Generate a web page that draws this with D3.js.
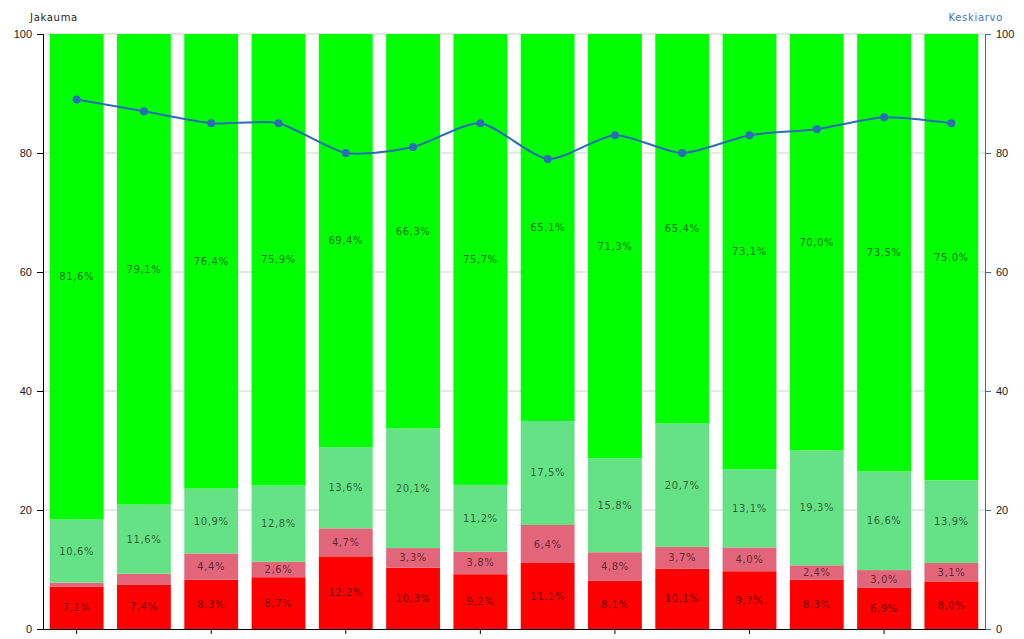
<!DOCTYPE html>
<html>
<head>
  <meta charset="utf-8">
  <title>Jakauma</title>
  <style>
    body { margin: 0; background: #fff; font-family: "DejaVu Sans", Verdana, sans-serif; }
    .axis text { font-size: 11px; fill: #222; }
    .seg-label { font-size: 10px; fill: #000; fill-opacity: .6; letter-spacing: .6px; }
  </style>
  <script src="https://d3js.org/d3.v7.min.js"></script>
</head>
<body>
  <div id="chart"></div>
  <script>
    // data
    var categories = d3.range(1, 15).map(String);
    var redValues   = [7.1, 7.4, 8.3, 8.7, 12.2, 10.3, 9.2, 11.1, 8.1, 10.1, 9.7, 8.3, 6.9, 8.0];
    var pinkValues  = [0.7, 1.9, 4.4, 2.6, 4.7, 3.3, 3.8, 6.4, 4.8, 3.7, 4.0, 2.4, 3.0, 3.1];
    var lightValues = [10.6, 11.6, 10.9, 12.8, 13.6, 20.1, 11.2, 17.5, 15.8, 20.7, 13.1, 19.3, 16.6, 13.9];
    var greenValues = [81.6, 79.1, 76.4, 75.9, 69.4, 66.3, 75.7, 65.1, 71.3, 65.4, 73.1, 70.0, 73.5, 75.0];
    var averages    = [89, 87, 85, 85, 80, 81, 85, 79, 83, 80, 83, 84, 86, 85];
    var yTicks = [0, 20, 40, 60, 80, 100];

    var seriesKeys = ["red", "pink", "light", "green"];
    var colors = { red: "#ff0000", pink: "#e2657a", light: "#66e286", green: "#00ff00" };

    var width = 1024, height = 639;
    var margin = { top: 34, right: 39, bottom: 10, left: 43 };

    var rows = categories.map(function (c, i) {
      return { cat: c, red: redValues[i], pink: pinkValues[i], light: lightValues[i], green: greenValues[i] };
    });

    var svg = d3.select("#chart").append("svg")
      .attr("width", width)
      .attr("height", height);

    var x = d3.scaleBand()
      .domain(categories)
      .range([margin.left, width - margin.right])
      .paddingInner(0.2)
      .paddingOuter(0.1);

    var y = d3.scaleLinear().domain([0, 100]).range([height - margin.bottom, margin.top]);
    var y2 = d3.scaleLinear().domain([0, 100]).range([height - margin.bottom, margin.top]);
    // 100 % stacks
    var yShare = d3.scaleLinear().domain([0, 1]).range([height - margin.bottom, margin.top]);

    // gridlines
    svg.append("g").selectAll("line")
      .data(yTicks.slice(1))
      .enter().append("line")
      .attr("x1", margin.left).attr("x2", width - margin.right)
      .attr("y1", function (d) { return y(d); }).attr("y2", function (d) { return y(d); })
      .attr("stroke", "#cfcfcf");

    var stack = d3.stack().keys(seriesKeys).offset(d3.stackOffsetExpand);
    var layers = stack(rows);

    var layer = svg.append("g").selectAll("g")
      .data(layers)
      .enter().append("g")
      .attr("fill", function (d) { return colors[d.key]; });

    layer.selectAll("rect")
      .data(function (d) { return d; })
      .enter().append("rect")
      .attr("x", function (d) { return x(d.data.cat); })
      .attr("width", x.bandwidth())
      .attr("y", function (d) { return yShare(d[1]); })
      .attr("height", function (d) { return yShare(d[0]) - yShare(d[1]); });

    // percentage labels (small segments are left out)
    layer.selectAll("text")
      .data(function (d) { return d.map(function (p) { return { p: p, key: d.key }; }); })
      .enter().filter(function (d) { return d.p.data[d.key] >= 2; })
      .append("text")
      .attr("class", "seg-label")
      .attr("x", function (d) { return x(d.p.data.cat) + x.bandwidth() / 2; })
      .attr("y", function (d) { return yShare((d.p[0] + d.p[1]) / 2); })
      .attr("dy", "0.35em")
      .attr("text-anchor", "middle")
      .text(function (d) { return d3.format(".1f")(d.p.data[d.key]).replace(".", ",") + "%"; });

    // axes
    var leftAxis = svg.append("g")
      .attr("class", "axis")
      .attr("transform", "translate(" + margin.left + ",0)")
      .call(d3.axisLeft(y).tickValues(yTicks).tickSize(6).tickPadding(5));
    leftAxis.select(".domain").attr("stroke", "#000");

    var rightAxis = svg.append("g")
      .attr("class", "axis")
      .attr("transform", "translate(" + (width - margin.right) + ",0)")
      .call(d3.axisRight(y2).tickValues(yTicks).tickSize(6).tickPadding(5));
    rightAxis.selectAll(".domain, line").attr("stroke", "#3a6ea5");

    var bottomAxis = svg.append("g")
      .attr("class", "axis")
      .attr("transform", "translate(0," + (height - margin.bottom) + ")")
      .call(d3.axisBottom(x)
        .tickValues(categories.filter(function (d, i) { return i % 2 === 0; }))
        .tickSize(5).tickSizeOuter(0).tickFormat(""));
    bottomAxis.select(".domain").attr("stroke", "#000");

    // average line
    var line = d3.line()
      .x(function (d, i) { return x(categories[i]) + x.bandwidth() / 2; })
      .y(function (d) { return y2(d); })
      .curve(d3.curveCardinal.tension(0.3));

    svg.append("path")
      .datum(averages)
      .attr("fill", "none")
      .attr("stroke", "#2a6db5")
      .attr("stroke-width", 2)
      .attr("d", line);

    svg.append("g").selectAll("circle")
      .data(averages)
      .enter().append("circle")
      .attr("cx", function (d, i) { return x(categories[i]) + x.bandwidth() / 2; })
      .attr("cy", function (d) { return y2(d); })
      .attr("r", 4)
      .attr("fill", "#2a6db5");

    // axis titles
    svg.append("text")
      .attr("x", 30).attr("y", 21)
      .style("font-size", "10px").style("letter-spacing", ".7px")
      .attr("fill", "#222")
      .text("Jakauma");

    svg.append("text")
      .attr("x", 1003).attr("y", 21)
      .attr("text-anchor", "end")
      .style("font-size", "10px").style("letter-spacing", ".7px")
      .attr("fill", "#3a78b8")
      .text("Keskiarvo");
  </script>
</body>
</html>
